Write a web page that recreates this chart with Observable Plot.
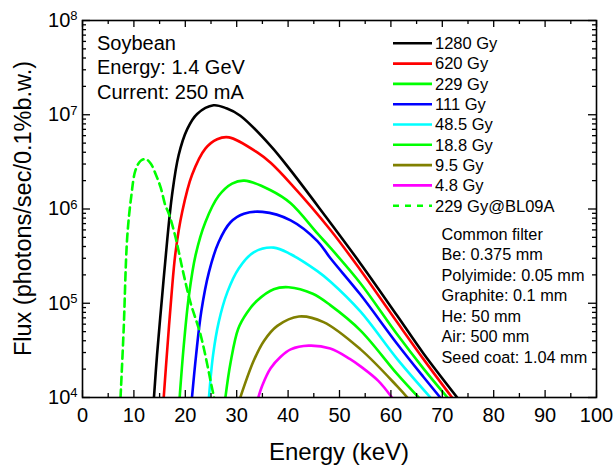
<!DOCTYPE html>
<html><head><meta charset="utf-8">
<script src="https://cdn.jsdelivr.net/npm/d3@7"></script>
<script src="https://cdn.jsdelivr.net/npm/@observablehq/plot@0.6"></script>
<style>
body{margin:0;background:#fff;}
#chart{width:613px;height:465px;}
svg{font-family:"Liberation Sans",Arial,sans-serif;}
</style></head><body><div id="chart"></div>
<script>
// ---- data (energy keV, flux photons/sec/0.1%b.w.) ----
const e1280 = [13.9,14.5,15.5,16.5,17.4,18.7,20.4,22.3,25.5,28.0,30.7,36.6,40.5,46.9,54.1,61.2,66.3,72.9];
const f1280 = [1.0e4,2.82e4,1.20e5,4.79e5,1.38e6,3.72e6,7.08e6,1.02e7,1.26e7,1.17e7,9.77e6,4.68e6,2.57e6,8.91e5,2.63e5,7.41e4,2.95e4,1.0e4];
const e620 = [15.8,16.5,17.3,18.1,19.4,21.3,23.9,26.2,28.5,34.0,36.6,40.5,48.2,54.1,61.2,66.3,71.9];
const f620 = [1.0e4,3.31e4,1.20e5,3.47e5,9.33e5,2.29e6,4.37e6,5.50e6,5.75e6,3.98e6,3.09e6,1.86e6,6.03e5,2.24e5,6.31e4,2.57e4,1.0e4];
const e229 = [18.9,19.7,20.7,22.0,23.9,26.5,29.1,31.5,36.6,40.5,45.7,48.2,54.1,61.2,66.3,71.0];
const f229 = [1.0e4,3.55e4,1.20e5,3.24e5,7.24e5,1.38e6,1.86e6,2.0e6,1.58e6,1.15e6,5.50e5,3.89e5,1.62e5,4.68e4,2.04e4,1.0e4];
const e111 = [21.3,22.1,23.1,24.6,26.5,28.8,31.4,35.0,40.5,45.7,48.2,54.1,61.2,66.3,69.6];
const f111 = [1.0e4,2.82e4,8.13e4,2.14e5,4.47e5,7.24e5,8.91e5,9.33e5,7.59e5,4.57e5,3.02e5,1.23e5,3.72e4,1.66e4,1.0e4];
const e48 = [24.6,25.4,26.5,28.2,30.4,33.3,37.2,40.5,45.7,48.2,54.1,61.2,67.7];
const f48 = [1.0e4,2.82e4,6.31e4,1.32e5,2.34e5,3.47e5,3.89e5,3.31e5,2.19e5,1.70e5,8.13e4,2.57e4,1.0e4];
const e18 = [27.8,28.8,30.3,32.0,34.0,37.2,40.1,44.8,48.2,54.1,61.2,65.4];
const f18 = [1.0e4,2.34e4,5.37e4,7.94e4,1.07e5,1.41e5,1.48e5,1.26e5,9.55e4,5.13e4,1.78e4,1.0e4];
const e95 = [30.7,33.3,35.3,37.9,42.1,46.9,54.1,61.2,63.2];
const f95 = [1.0e4,2.45e4,3.98e4,5.75e4,7.24e4,6.31e4,3.24e4,1.32e4,1.0e4];
const e48b = [34.2,35.0,36.6,38.5,40.5,44.0,48.2,52.0,54.1,57.5,60.2];
const f48b = [1.0e4,1.35e4,2.04e4,2.69e4,3.24e4,3.55e4,3.31e4,2.57e4,2.14e4,1.51e4,1.0e4];
const eBL = [7.4,8.0,8.7,9.5,10.3,11.3,12.3,13.3,14.3,15.2,16.1,16.8,18.1,19.5,21.0,23.0,25.2,25.6];
const fBL = [1.0e4,5.13e4,5.01e5,1.38e6,2.57e6,3.24e6,3.39e6,3.02e6,2.29e6,1.70e6,1.10e6,8.91e5,5.01e5,2.24e5,1.02e5,4.57e4,1.26e4,1.0e4];

const seriesNames = ["1280 Gy","620 Gy","229 Gy","111 Gy","48.5 Gy","18.8 Gy","9.5 Gy","4.8 Gy","229 Gy@BL09A"];
const seriesColors = ["#000000","#ff0000","#00ff00","#0000ff","#00ffff","#00ff00","#808000","#ff00ff","#00ff00"];
const seriesDashed = [false,false,false,false,false,false,false,false,true];
const seriesE = [e1280,e620,e229,e111,e48,e18,e95,e48b,eBL];
const seriesF = [f1280,f620,f229,f111,f48,f18,f95,f48b,fBL];

const xMajor = [0,10,20,30,40,50,60,70,80,90,100];
const xMinor = [5,15,25,35,45,55,65,75,85,95];
const yMajor = [1e4,1e5,1e6,1e7,1e8];
const yTickExp = ["4","5","6","7","8"];
const yMinor = [2e4,3e4,4e4,5e4,6e4,7e4,8e4,9e4,2e5,3e5,4e5,5e5,6e5,7e5,8e5,9e5,2e6,3e6,4e6,5e6,6e6,7e6,8e6,9e6,2e7,3e7,4e7,5e7,6e7,7e7,8e7,9e7];
const infoLines = ["Soybean","Energy: 1.4 GeV","Current: 250 mA"];
const filterLines = ["Common filter","Be: 0.375 mm","Polyimide: 0.05 mm","Graphite: 0.1 mm","He: 50 mm","Air: 500 mm","Seed coat: 1.04 mm"];
const xTitle = "Energy (keV)";
const yTitle = "Flux (photons/sec/0.1%b.w.)";

// ---- layout ----
const W = 613, H = 465, mL = 82, mR = 17, mT = 20, mB = 68;
const ph = H - mT - mB, pw = W - mL - mR;
const font = '"Liberation Sans", Arial, sans-serif';

const rows = seriesNames.flatMap((name, k) =>
  seriesE[k].map((e, i) => ({name, color: seriesColors[k], dashed: seriesDashed[k], e, f: seriesF[k][i]})));
const solid = rows.filter(d => !d.dashed);
const dashed = rows.filter(d => d.dashed);

const tk = {stroke: "black", strokeWidth: 1.3};
const plot = Plot.plot({
  width: W, height: H, marginLeft: mL, marginRight: mR, marginTop: mT, marginBottom: mB,
  style: {fontFamily: font, background: "white", color: "black"},
  x: {domain: [0, 100]},
  y: {type: "log", domain: [1e4, 1e8]},
  marks: [
    Plot.line(solid, {x: "e", y: "f", z: "name", stroke: "color", strokeWidth: 2.6, curve: "catmull-rom", clip: true}),
    Plot.line(dashed, {x: "e", y: "f", z: "name", stroke: "color", strokeWidth: 2.6, strokeDasharray: "8,5", curve: "catmull-rom", clip: true}),
    Plot.tickX(xMajor, {x: d => d, insetTop: ph - 7, ...tk}),
    Plot.tickX(xMajor, {x: d => d, insetBottom: ph - 7, ...tk}),
    Plot.tickX(xMinor, {x: d => d, insetTop: ph - 4, ...tk}),
    Plot.tickX(xMinor, {x: d => d, insetBottom: ph - 4, ...tk}),
    Plot.tickY(yMajor, {y: d => d, insetRight: pw - 8, ...tk}),
    Plot.tickY(yMajor, {y: d => d, insetLeft: pw - 8, ...tk}),
    Plot.tickY(yMinor, {y: d => d, insetRight: pw - 4, ...tk}),
    Plot.tickY(yMinor, {y: d => d, insetLeft: pw - 4, ...tk}),
    Plot.axisX(xMajor, {tickSize: 0, tickPadding: 10, fontSize: 20, label: null}),
    Plot.axisY(yMajor, {tickSize: 0, tickPadding: 5, fontSize: 20, label: null,
      tickFormat: d => "10^" + yTickExp[yMajor.indexOf(d)]}),
    Plot.frame({stroke: "black", strokeWidth: 1.6})
  ]
});
document.getElementById("chart").appendChild(plot);

const svg = d3.select(plot);
// superscript exponents on y tick labels
svg.selectAll('g[aria-label="y-axis tick label"] text').each(function() {
  const t = this.textContent;
  const exp = t.split("^")[1];
  this.textContent = "10";
  d3.select(this).append("tspan").attr("dy", "-0.5em").attr("font-size", 13).text(exp);
});

const xs = plot.scale("x"), ys = plot.scale("y");
// axis titles
svg.append("text").attr("x", (xs.apply(0) + xs.apply(100)) / 2).attr("y", 459.5)
  .attr("text-anchor", "middle").attr("font-size", 24).attr("font-family", font).text(xTitle);
svg.append("text").attr("transform", `translate(31,${(ys.apply(1e4) + ys.apply(1e8)) / 2}) rotate(-90)`)
  .attr("text-anchor", "middle").attr("font-size", 23.5).attr("font-family", font).text(yTitle);

// info text (top-left)
const info = svg.append("g").attr("font-family", font).attr("font-size", 20).attr("text-anchor", "start");
infoLines.forEach((s, i) => info.append("text").attr("x", 97).attr("y", 49.5 + i * 24.6).text(s));

// legend
const lg = svg.append("g").attr("font-family", font).attr("font-size", 16.5).attr("text-anchor", "start");
seriesNames.forEach((name, i) => {
  const yy = 43.3 + i * 20.3;
  const ln = lg.append("line").attr("x1", 393).attr("x2", 432).attr("y1", yy).attr("y2", yy)
    .attr("stroke", seriesColors[i]).attr("stroke-width", 2.6);
  if (seriesDashed[i]) ln.attr("stroke-dasharray", "6,6");
  lg.append("text").attr("x", 435).attr("y", yy + 5.8).text(name);
});

// filter note
const fl = svg.append("g").attr("font-family", font).attr("font-size", 16.3).attr("text-anchor", "start");
filterLines.forEach((s, i) => fl.append("text").attr("x", 441.5).attr("y", 239.5 + i * 20.5).text(s));
</script></body></html>
